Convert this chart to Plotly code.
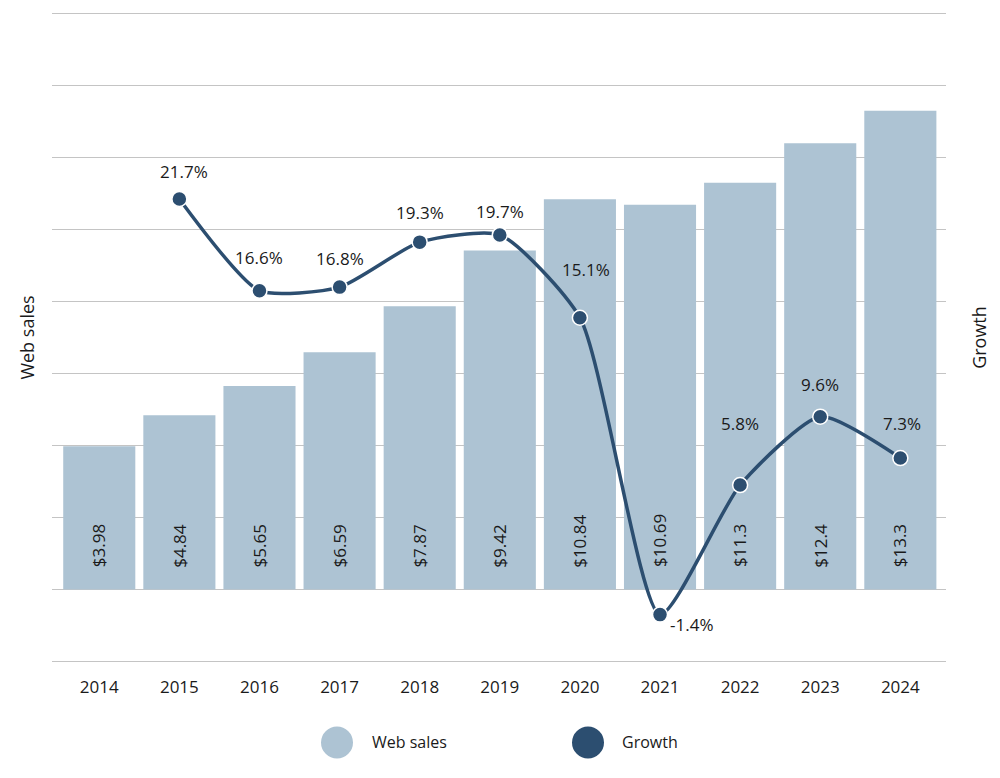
import plotly.graph_objects as go

years = ["2014", "2015", "2016", "2017", "2018", "2019", "2020", "2021", "2022", "2023", "2024"]
web_sales = [3.98, 4.84, 5.65, 6.59, 7.87, 9.42, 10.84, 10.69, 11.3, 12.4, 13.3]
sales_labels = ["$3.98", "$4.84", "$5.65", "$6.59", "$7.87", "$9.42", "$10.84", "$10.69", "$11.3", "$12.4", "$13.3"]
growth_years = ["2015", "2016", "2017", "2018", "2019", "2020", "2021", "2022", "2023", "2024"]
growth = [21.7, 16.6, 16.8, 19.3, 19.7, 15.1, -1.4, 5.8, 9.6, 7.3]
growth_labels = ["21.7%", "16.6%", "16.8%", "19.3%", "19.7%", "15.1%", "-1.4%", "5.8%", "9.6%", "7.3%"]

# label placement offsets (pixels) for the growth labels
label_dx = [5, 0, 0, 0, 0, 6, 31, 0, 0, 2]
label_dy = [27, 33, 29, 30, 23, 48, -10, 62, 32, 35]

BAR = "#adc3d3"
LINE = "#2c4e70"
FONT = "Open Sans"
TXT = "#1a1a1a"

xi = list(range(len(years)))
gxi = [years.index(y) for y in growth_years]

fig = go.Figure()
fig.add_trace(go.Bar(x=xi, y=web_sales, marker=dict(color=BAR, line=dict(width=0)),
                     width=0.9, name="Web sales", showlegend=False, hoverinfo="y"))
fig.add_trace(go.Scatter(x=gxi, y=growth, yaxis="y2", mode="lines+markers",
                         line=dict(color=LINE, width=3.5, shape="spline", smoothing=0.6),
                         marker=dict(size=15, color=LINE, line=dict(color="white", width=1.5)),
                         name="Growth", showlegend=False))

ann = []
for i, t in zip(xi, sales_labels):
    ann.append(dict(x=i, y=0, xref="x", yref="y", text=t, textangle=-90, showarrow=False,
                    yanchor="bottom", yshift=20, font=dict(family=FONT, size=17, color=TXT)))
for i, v, t, dx, dy in zip(gxi, growth, growth_labels, label_dx, label_dy):
    ann.append(dict(x=i, y=v, xref="x", yref="y2", text=t, showarrow=False,
                    xshift=dx, yshift=dy, font=dict(family=FONT, size=17, color=TXT)))

# page body has an 8px default margin; figure is sized/offset to compensate
FW, FH = 992, 770
ML, MR, MT, MB = 44, 54, 2.4, 113.4

fig.update_layout(
    width=FW, height=FH,
    margin=dict(l=ML, r=MR, t=MT, b=MB, autoexpand=False),
    plot_bgcolor="white", paper_bgcolor="white",
    font=dict(family=FONT, size=17, color=TXT),
    bargap=0.1,
    xaxis=dict(range=[-0.59, 10.57], tickmode="array", tickvals=xi, ticktext=years,
               showgrid=False, zeroline=False, showline=False, ticks="", automargin=False,
               ticklabelstandoff=10, tickfont=dict(size=17, color=TXT)),
    yaxis=dict(range=[-2.1, 16.1], tickmode="array", tickvals=list(range(-2, 17, 2)),
               showticklabels=False, gridcolor="#c4c4c4", gridwidth=1,
               zeroline=False, showline=False, automargin=False,
               title=dict(text="Web sales", font=dict(size=18, color=TXT), standoff=11)),
    yaxis2=dict(range=[-4.2, 32.2], dtick=4, overlaying="y", side="right", showticklabels=False,
                showgrid=False, zeroline=False, showline=False, automargin=False,
                title=dict(text="Growth", font=dict(size=18, color=TXT), standoff=27)),
)

PW = FW - ML - MR
PH = FH - MT - MB
def px(x): return (x - 8 - ML) / PW
def py(y): return (FH - MB - (y - 8)) / PH

shapes = []
legend_items = [("Web sales", BAR, 337, 370), ("Growth", LINE, 588, 620)]
for name, col, cx, tx in legend_items:
    r = 16
    shapes.append(dict(type="circle", xref="paper", yref="paper",
                       x0=px(cx - r), x1=px(cx + r), y0=py(742 + r), y1=py(742 - r),
                       fillcolor=col, line=dict(width=0)))
    ann.append(dict(x=px(tx), y=py(742), xref="paper", yref="paper", text=name, showarrow=False,
                    xanchor="left", yanchor="middle", font=dict(family=FONT, size=16, color=TXT)))

fig.update_layout(annotations=ann, shapes=shapes)
fig.write_html("out.html")
